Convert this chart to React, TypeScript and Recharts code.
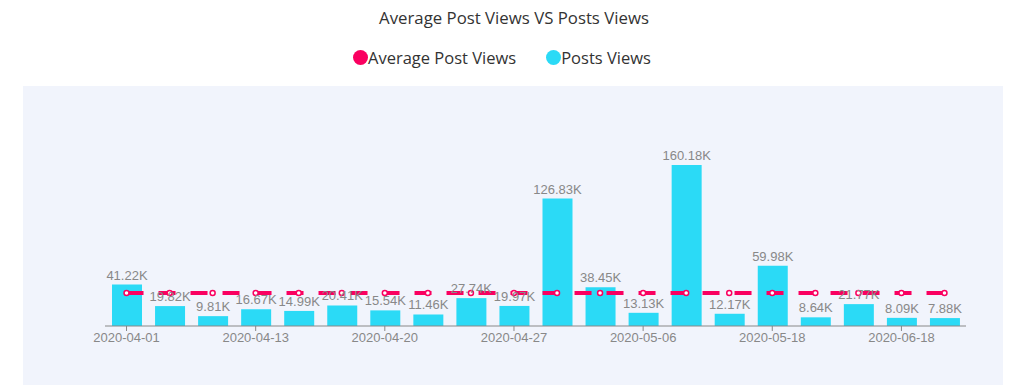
import { ComposedChart, Bar, Line, XAxis, YAxis, LabelList } from 'recharts';

const dates = [
  '2020-04-01', '2020-04-05', '2020-04-09', '2020-04-13', '2020-04-15',
  '2020-04-17', '2020-04-20', '2020-04-22', '2020-04-24', '2020-04-27',
  '2020-04-29', '2020-05-01', '2020-05-06', '2020-05-08', '2020-05-12',
  '2020-05-18', '2020-05-22', '2020-06-01', '2020-06-18', '2020-06-22',
];

const postsViews = [
  41220, 19820, 9810, 16670, 14990, 20410, 15540, 11460, 27740, 19970,
  126830, 38450, 13130, 160180, 12170, 59980, 8640, 21770, 8090, 7880,
];

const averageViews = [
  32740, 32740, 32740, 32740, 32740, 32740, 32740, 32740, 32740, 32740,
  32740, 32740, 32740, 32740, 32740, 32740, 32740, 32740, 32740, 32740,
];

const data = dates.map((date, i) => ({
  date,
  posts: postsViews[i],
  average: averageViews[i],
}));

const PINK = '#fa0060';
const CYAN = '#2bdaf6';

const fmtK = (v: any) => (Number(v) / 1000).toFixed(2) + 'K';

const LegendItem = ({ color, label }: { color: string; label: string }) => (
  <span style={{ display: 'inline-flex', alignItems: 'center' }}>
    <span style={{ width: 15, height: 15, borderRadius: '50%', background: color, display: 'inline-block' }} />
    <span>{label}</span>
  </span>
);

const App = () => {
  return (
    <div style={{ position: 'absolute', left: 0, top: 0, width: 1016, height: 389, background: '#fff', fontFamily: '"Open Sans", sans-serif' }}>
      <div style={{ position: 'absolute', top: 6, left: 6, width: 1016, textAlign: 'center', fontSize: 16.8, color: '#333' }}>
        Average Post Views VS Posts Views
      </div>
      <div style={{ position: 'absolute', top: 46, left: 353, fontSize: 16.5, color: '#333', display: 'flex', gap: 30 }}>
        <LegendItem color={PINK} label="Average Post Views" />
        <LegendItem color={CYAN} label="Posts Views" />
      </div>
      <div style={{ position: 'absolute', left: 23, top: 86, width: 980, height: 299, background: '#f1f4fc' }}>
        <ComposedChart
          width={980}
          height={299}
          data={data}
          margin={{ top: 39, right: 37, left: 82, bottom: 29 }}
        >
          <XAxis
            dataKey="date"
            interval={2}
            stroke="#888"
            tickLine={{ stroke: '#888' }}
            tickSize={5}
            tick={{ fill: '#888', fontSize: 13, fontFamily: 'Liberation Sans, Arial, sans-serif' }}
          />
          <YAxis hide domain={[0, 200000]} />
          <Bar dataKey="posts" name="Posts Views" fill={CYAN} barSize={30} isAnimationActive={false}>
            <LabelList
              dataKey="posts"
              position="top"
              formatter={fmtK}
              fill="#888"
              fontSize={13}
              fontFamily="Liberation Sans, Arial, sans-serif"
            />
          </Bar>
          <Line
            dataKey="average"
            name="Average Post Views"
            stroke={PINK}
            strokeWidth={4}
            strokeDasharray="17 15"
            dot={{ r: 2.5, fill: '#fff', stroke: PINK, strokeWidth: 1.5 }}
            activeDot={false}
            isAnimationActive={false}
          />
        </ComposedChart>
      </div>
    </div>
  );
};

export default App;
